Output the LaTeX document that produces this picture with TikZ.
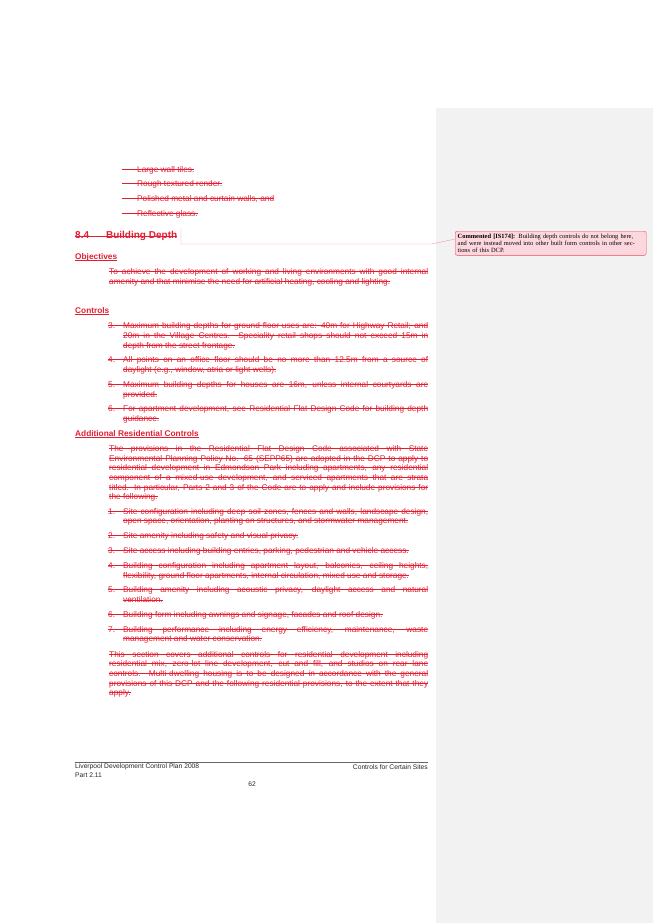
\documentclass[tikz,border=0pt]{standalone}
\usepackage{fontspec}
\setmainfont{Liberation Sans}
\setsansfont{Liberation Sans}
\newfontfamily\cmtfont{Liberation Serif}
\definecolor{del}{RGB}{228,30,50}
\definecolor{panel}{RGB}{242,242,242}
\definecolor{cfill}{RGB}{253,215,222}
\newcommand\tx{\fontsize{8.3}{9}\selectfont}
\newcommand\Num[1]{\makebox[15pt][l]{#1}}
\newcommand\strk[1]{\setbox0\hbox{#1}\rlap{\rule[2.5pt]{\wd0}{0.5pt}}\box0}
\newcommand\ulin[1]{\setbox0\hbox{#1}\rlap{\rule[-1.6pt]{\wd0}{0.5pt}}\box0}
\newcommand\JL[2]{\hbadness=10000\hfuzz=50pt\rlap{\rule[2.5pt]{#1}{0.5pt}}\hbox to #1{#2}}
\begin{document}
\begin{tikzpicture}[x=1pt,y=-1pt,
  jl/.style={anchor=west,inner sep=0pt,text=del,font=\tx},
  hd/.style={anchor=west,inner sep=0pt,text=del,font=\tx\bfseries},
  ft/.style={anchor=west,inner sep=0pt,text=black!85,font=\fontsize{6.7}{7}\selectfont}]
\useasboundingbox (0,0) rectangle (653,923);
\fill[white] (0,0) rectangle (653,923);
\fill[panel] (436,108) rectangle (653,923);
% bullets
\node[jl] (b1) at (122,170) {\strk{\Num{}Large wall tiles.}};
\node[jl] (b2) at (122,184) {\strk{\Num{}Rough textured render.}};
\node[jl] (b3) at (122,199) {\strk{\Num{}Polished metal and curtain walls, and}};
\node[jl] (b4) at (122,214) {\strk{\Num{}Reflective glass.}};
% heading
\node[hd,font=\fontsize{10}{11}\selectfont\bfseries] (h) at (75,236) {\strk{8.4\makebox[17pt]{}Building Depth}};
\draw[del!45,thin] (181,228)--(181,244)--(432,244)--(455,239);
\node[draw=del!80,fill=cfill,rounded corners=2pt,anchor=north west,text width=186pt,inner sep=2.5pt,font=\cmtfont\fontsize{6.4}{7.3}\selectfont,align=left] (c) at (455,231) {\textbf{Commented [IS174]:} Building depth controls do not belong here, and were instead moved into other built form controls in other sections of this DCP.};
% objectives
\node[hd] (o) at (75,257) {\ulin{Objectives}};
\node[jl] (o1) at (109,272) {\JL{319pt}{To achieve the development of working and living environments with good internal}};
\node[jl] (o2) at (109,282) {\strk{amenity and that minimise the need for artificial heating, cooling and lighting.}};
% controls
\node[hd] (ct) at (75,311) {\ulin{Controls}};
\node[jl] (c3a) at (108,326) {\JL{320pt}{\Num{3.}Maximum building depths for ground floor uses are: 40m for Highway Retail; and}};
\node[jl] (c3b) at (123,336) {\JL{305pt}{20m in the Village Centres.  Speciality retail shops should not exceed 15m in}};
\node[jl] (c3c) at (123,346) {\strk{depth from the street frontage.}};
\node[jl] (c4a) at (108,360) {\JL{320pt}{\Num{4.}All points on an office floor should be no more than 12.5m from a source of}};
\node[jl] (c4b) at (123,370) {\strk{daylight (e.g., window, atria or light wells).}};
\node[jl] (c5a) at (108,385) {\JL{320pt}{\Num{5.}Maximum building depths for houses are 16m, unless internal courtyards are}};
\node[jl] (c5b) at (123,395) {\strk{provided.}};
\node[jl] (c6a) at (108,409) {\JL{320pt}{\Num{6.}For apartment development, see Residential Flat Design Code for building depth}};
\node[jl] (c6b) at (123,419) {\strk{guidance.}};
% additional
\node[hd] (ad) at (75,434) {\ulin{Additional Residential Controls}};
\node[jl] (p1) at (109,449) {\JL{319pt}{The provisions in the Residential Flat Design Code associated with State}};
\node[jl] (p2) at (109,459) {\JL{319pt}{Environmental Planning Policy No. 65 (SEPP65) are adopted in the DCP to apply to}};
\node[jl] (p3) at (109,468) {\JL{319pt}{residential development in Edmondson Park including apartments, any residential}};
\node[jl] (p4) at (109,478) {\JL{319pt}{component of a mixed-use development, and serviced apartments that are strata}};
\node[jl] (p5) at (109,488) {\JL{319pt}{titled. In particular, Parts 2 and 3 of the Code are to apply and include provisions for}};
\node[jl] (p6) at (109,497) {\strk{the following.}};
\node[jl] (a1a) at (108,512) {\JL{320pt}{\Num{1.}Site configuration including deep soil zones, fences and walls, landscape design,}};
\node[jl] (a1b) at (123,521) {\strk{open space, orientation, planting on structures, and stormwater management.}};
\node[jl] (a2) at (108,536) {\strk{\Num{2.}Site amenity including safety and visual privacy.}};
\node[jl] (a3) at (108,551) {\strk{\Num{3.}Site access including building entries, parking, pedestrian and vehicle access.}};
\node[jl] (a4a) at (108,566) {\JL{320pt}{\Num{4.}Building configuration including apartment layout, balconies, ceiling heights,}};
\node[jl] (a4b) at (123,576) {\strk{flexibility, ground floor apartments, internal circulation, mixed use and storage.}};
\node[jl] (a5a) at (108,590) {\JL{320pt}{\Num{5.}Building amenity including acoustic privacy, daylight access and natural}};
\node[jl] (a5b) at (123,600) {\strk{ventilation.}};
\node[jl] (a6) at (108,615) {\strk{\Num{6.}Building form including awnings and signage, facades and roof design.}};
\node[jl] (a7a) at (108,630) {\JL{320pt}{\Num{7.}Building performance including energy efficiency, maintenance, waste}};
\node[jl] (a7b) at (123,639) {\strk{management and water conservation.}};
\node[jl] (q1) at (109,655) {\JL{319pt}{This section covers additional controls for residential development including}};
\node[jl] (q2) at (109,664) {\JL{319pt}{residential mix, zero-lot line development, cut and fill, and studios on rear lane}};
\node[jl] (q3) at (109,674) {\JL{319pt}{controls. Multi-dwelling housing is to be designed in accordance with the general}};
\node[jl] (q4) at (109,684) {\JL{319pt}{provisions of this DCP and the following residential provisions, to the extent that they}};
\node[jl] (q5) at (109,693) {\strk{apply.}};
% footer
\draw[black!60,line width=0.6pt] (75,762)--(428,762);
\node[ft] (f1) at (75,767) {Liverpool Development Control Plan 2008};
\node[ft,anchor=east] (f2) at (428,767) {Controls for Certain Sites};
\node[ft] (f3) at (75,775) {Part 2.11};
\node[ft,anchor=center] (f4) at (252,784) {62};
\end{tikzpicture}
\end{document}
